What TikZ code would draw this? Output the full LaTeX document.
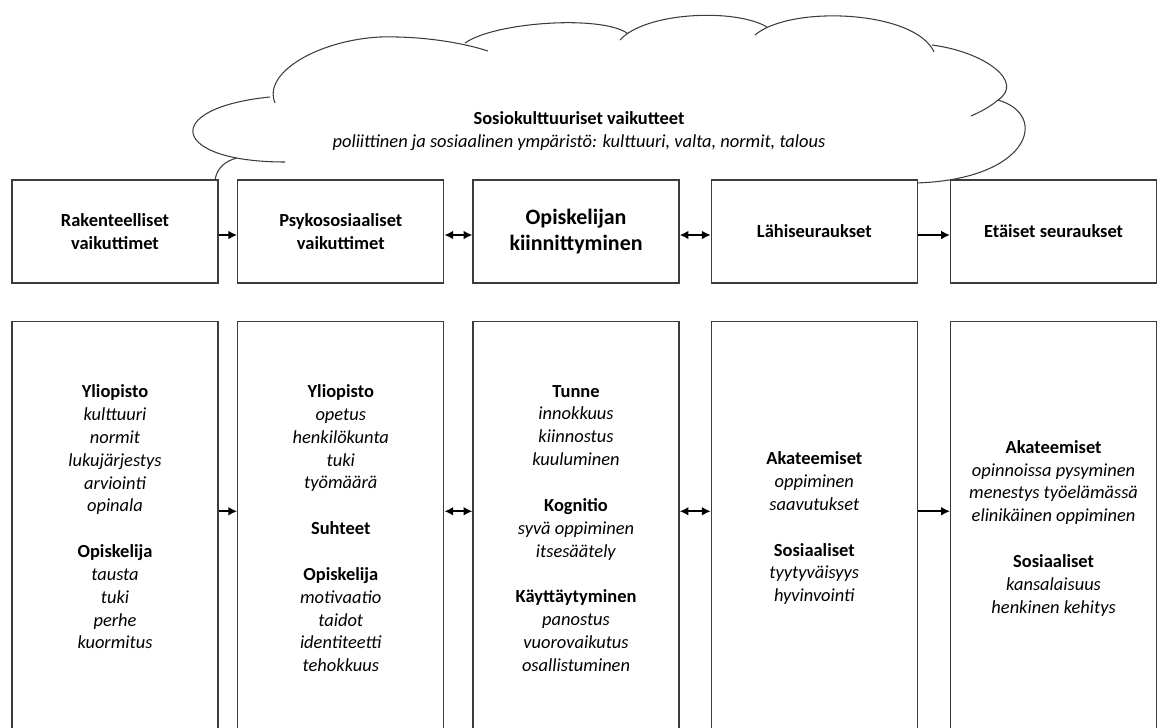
\documentclass[tikz,border=0pt]{standalone}
\usepackage{fontspec}
\setmainfont{Carlito}
\usetikzlibrary{positioning,arrows.meta}
\definecolor{boxgray}{HTML}{3C3C3C}
\begin{document}
\begin{tikzpicture}[x=0.02cm,y=-0.02cm,
  >={Latex[length=5pt,width=5pt]},
  txt/.style={font=\fontsize{10.5}{13}\selectfont,align=center},
  headbox/.style={draw=boxgray,line width=0.75pt,fill=white,minimum width=4.12cm,
    minimum height=2.06cm,align=center,font=\fontsize{10.5}{13}\selectfont\bfseries},
  listbox/.style={draw=boxgray,line width=0.75pt,fill=white,minimum width=4.12cm,
    minimum height=8.28cm,align=center,font=\fontsize{10.5}{13}\selectfont},
  link/.style={draw=black,line width=1.05pt}]
\useasboundingbox (0,0) rectangle (1159,727);

% the cloud, drawn bump by bump
\def\cloudleft{(215,180) .. controls (217,168) and (225,161) .. (237,158)
  (285,162) .. controls (170,162) and (160,108) .. (270,97)
  (275,103) .. controls (262,72) and (320,40) .. (380,37) .. controls (420,36) and (460,42) .. (488,51)}
\def\cloudtop{(465,43) .. controls (495,22) and (600,15) .. (627,33)
  (620,40) .. controls (645,12) and (735,8) .. (767,27)
  (755,35) .. controls (790,5) and (915,10) .. (934,52)}
\def\cloudright{(932,45) .. controls (985,52) and (1025,82) .. (998,100) .. controls (990,107) and (980,112) .. (971,116)
  (998,100) .. controls (1050,115) and (1030,180) .. (915,183)}
\draw[boxgray,line width=0.6pt] \cloudleft \cloudtop \cloudright;

\node[txt] (cloudtxt) at (579,131) {\textbf{Sosiokulttuuriset vaikutteet}\\
  \textit{poliittinen ja sosiaalinen ympäristö: kulttuuri, valta, normit, talous}};

% top row
\node[headbox] (r1) at (115,231.5) {Rakenteelliset\\vaikuttimet};
\node[headbox, right=0.37cm of r1] (r2) {Psykososiaaliset\\vaikuttimet};
\node[headbox, right=0.56cm of r2, font=\fontsize{12.5}{15.3}\selectfont\bfseries] (r3) {Opiskelijan\\kiinnittyminen};
\node[headbox, right=0.62cm of r3] (r4) {Lähiseuraukset};
\node[headbox, right=0.64cm of r4] (r5) {Etäiset seuraukset};

\draw[link,->] ([yshift=-2pt]r1.east) -- ([yshift=-2pt]r2.west);
\draw[link,<->] ([yshift=-2pt]r2.east) -- ([yshift=-2pt]r3.west);
\draw[link,<->] ([yshift=-2pt]r3.east) -- ([yshift=-2pt]r4.west);
\draw[link,->] ([yshift=-2pt]r4.east) -- ([yshift=-2pt]r5.west);

% bottom row
\node[listbox, below=0.74cm of r1] (s1) {\textbf{Yliopisto}\\\textit{kulttuuri}\\\textit{normit}\\
  \textit{lukujärjestys}\\\textit{arviointi}\\\textit{opinala}\\[13pt]
  \textbf{Opiskelija}\\\textit{tausta}\\\textit{tuki}\\\textit{perhe}\\\textit{kuormitus}\\~};
\node[listbox, below=0.74cm of r2] (s2) {\textbf{Yliopisto}\\\textit{opetus}\\\textit{henkilökunta}\\
  \textit{tuki}\\\textit{työmäärä}\\[13pt]
  \textbf{Suhteet}\\[13pt]
  \textbf{Opiskelija}\\\textit{motivaatio}\\\textit{taidot}\\\textit{identiteetti}\\\textit{tehokkuus}};
\node[listbox, below=0.74cm of r3] (s3) {\textbf{Tunne}\\\textit{innokkuus}\\\textit{kiinnostus}\\
  \textit{kuuluminen}\\[13pt]
  \textbf{Kognitio}\\\textit{syvä oppiminen}\\\textit{itsesäätely}\\[13pt]
  \textbf{Käyttäytyminen}\\\textit{panostus}\\\textit{vuorovaikutus}\\\textit{osallistuminen}};
\node[listbox, below=0.74cm of r4] (s4) {\textbf{Akateemiset}\\\textit{oppiminen}\\\textit{saavutukset}\\[13pt]
  \textbf{Sosiaaliset}\\\textit{tyytyväisyys}\\\textit{hyvinvointi}};
\node[listbox, below=0.74cm of r5] (s5) {\textbf{Akateemiset}\\\textit{opinnoissa pysyminen}\\
  \textit{menestys työelämässä}\\\textit{elinikäinen oppiminen}\\[13pt]
  \textbf{Sosiaaliset}\\\textit{kansalaisuus}\\\textit{henkinen kehitys}};

\draw[link,->] ([yshift=0.34cm]s1.east) -- ([yshift=0.34cm]s2.west);
\draw[link,<->] ([yshift=0.34cm]s2.east) -- ([yshift=0.34cm]s3.west);
\draw[link,<->] ([yshift=0.34cm]s3.east) -- ([yshift=0.34cm]s4.west);
\draw[link,->] ([yshift=0.34cm]s4.east) -- ([yshift=0.34cm]s5.west);
\end{tikzpicture}
\end{document}
